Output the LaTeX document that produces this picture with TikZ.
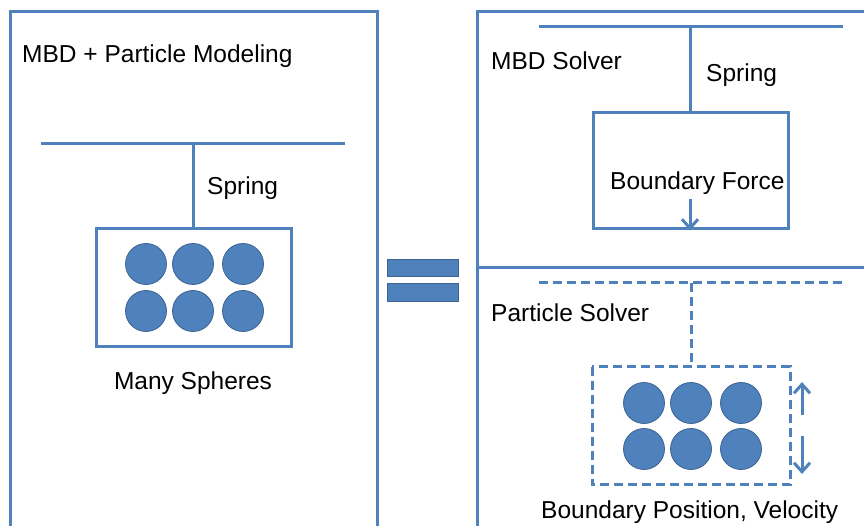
\documentclass[tikz,border=0pt]{standalone}
\usepackage{fontspec}
\setmainfont{Liberation Sans}
\usetikzlibrary{positioning,arrows.meta}
\definecolor{ofblue}{RGB}{79,129,189}
\definecolor{ofedge}{RGB}{60,99,146}

\begin{document}
\begin{tikzpicture}%
  [x=1pt,y=-1pt,
   frame/.style=
    {draw=ofblue,line width=3pt},
   holder/.style=
    {draw=ofblue,line width=3pt,minimum width=195pt,minimum height=117pt,inner sep=0pt},
   sphere/.style=
    {circle,fill=ofblue,draw=ofedge,line width=0.8pt,minimum size=41pt,inner sep=0pt},
   eqbar/.style=
    {fill=ofblue,draw=ofedge,line width=0.6pt,minimum width=71pt,minimum height=17pt,inner sep=0pt},
   txt/.style={font=\fontsize{24.5}{29}\selectfont,inner sep=0pt},
   solid link/.style={draw=ofblue,line width=3pt},
   dash link/.style={draw=ofblue,line width=3pt,dash pattern=on 9pt off 5pt},
   move/.style={draw=ofblue,line width=3pt,-{Straight Barb[length=9pt,width=16pt,line width=3pt]}}
  ]
  \useasboundingbox (0,0) rectangle (864,526);
  % left side: coupled model
  \draw[frame] (10,528) -- (10,12) -- (377,12) -- (377,528);
  \node[txt,anchor=base west] (title) at (22,63) {MBD + Particle Modeling};
  \coordinate (lbarl) at (41,144);
  \coordinate (lbarr) at (345,144);
  \coordinate (lhook) at (193.5,144);
  \draw[solid link] (lbarl) -- (lbarr);
  \node[holder] (lbox) at (193.5,287.5) {};
  \draw[solid link] (lhook) -- (lbox.north);
  \node[txt,anchor=base west] (lspring) at (207,195) {Spring};
  \foreach \i/\x in {1/146,2/193,3/243}
    \foreach \j/\y in {1/264,2/311}
      \node[sphere] (ls\i\j) at (\x,\y) {};
  \node[txt,anchor=base] (many) at (193,389) {Many Spheres};
  % equals sign
  \node[eqbar] (eq1) at (422.5,267.5) {};
  \node[eqbar,minimum height=18pt] (eq2) at (422.5,292) {};
  % right side: two solvers
  \draw[frame] (477,528) -- (477,12) -- (866,12);
  \draw[frame] (477,268) -- (866,268);
  % MBD solver
  \node[txt,anchor=base west] (mbd) at (491,70) {MBD Solver};
  \coordinate (rbarl) at (539,27);
  \coordinate (rbarr) at (843,27);
  \coordinate (rhook) at (690,27);
  \draw[solid link] (rbarl) -- (rbarr);
  \node[holder,minimum height=116pt] (fbox) at (691,171) {};
  \draw[solid link] (rhook) -- (fbox.north-|rhook);
  \node[txt,anchor=base west] (rspring) at (706,82) {Spring};
  \node[txt,anchor=base west] (force) at (610,190) {Boundary Force};
  \coordinate (ftop) at (690,199);
  \draw[move] (ftop) -- (fbox.south-|ftop);
  % particle solver
  \node[txt,anchor=base west] (psolv) at (491,322) {Particle Solver};
  \coordinate (pbarl) at (539,283);
  \coordinate (pbarr) at (843,283);
  \coordinate (phook) at (691,283);
  \draw[dash link] (pbarl) -- (pbarr);
  \node[holder,draw=none,minimum height=115pt] (pbox) at (691,425.5) {};
  \draw[dash link] (pbox.north west) rectangle (pbox.south east);
  \draw[dash link] (phook) -- (pbox.north-|phook);
  \foreach \i/\x in {1/644,2/691,3/741}
    \foreach \j/\y in {1/403,2/449}
      \node[sphere] (ps\i\j) at (\x,\y) {};
  \coordinate (upa) at (802,415);
  \coordinate (upb) at (802,382);
  \coordinate (dna) at (802,436);
  \coordinate (dnb) at (802,474);
  \draw[move] (upa) -- (upb);
  \draw[move] (dna) -- (dnb);
  \node[txt,anchor=base west] (bpv) at (541,518) {Boundary Position, Velocity};
\end{tikzpicture}
\end{document}
